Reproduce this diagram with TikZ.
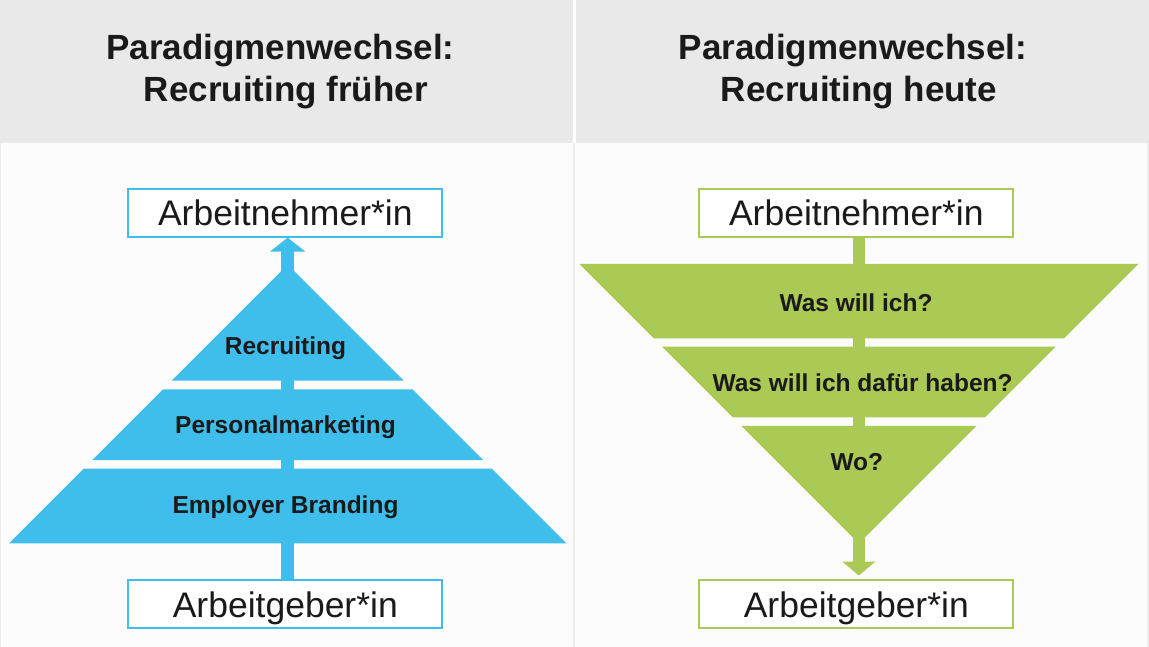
\documentclass[tikz,border=0pt]{standalone}
\usepackage{fontspec}
\setmainfont{Liberation Sans}
\usetikzlibrary{arrows.meta}
\definecolor{hdrgrey}{HTML}{E9E9E9}
\definecolor{bodybg}{HTML}{FCFCFC}
\definecolor{skyblue}{HTML}{40BEEB}
\definecolor{leafgreen}{HTML}{AAC955}
\definecolor{ink}{HTML}{1A1A1A}
\definecolor{faint}{HTML}{EDEDED}
\pgfdeclarelayer{backlayer}
\pgfdeclarelayer{midlayer}
\pgfsetlayers{backlayer,midlayer,main}
\begin{document}
\begin{tikzpicture}[x=1pt,y=-1pt,
  headtext/.style={font=\bfseries\fontsize{35}{42}\selectfont, text=ink, anchor=base, inner sep=0pt},
  boxlabel/.style={draw=#1, line width=2pt, fill=white, minimum width=314pt, minimum height=47.5pt,
    inner sep=0pt, text height=26.4pt, text depth=0pt, font=\fontsize{35.5}{41}\selectfont, text=ink},
  bandtext/.style={font=\bfseries\fontsize{24.5}{29}\selectfont, text=ink, anchor=base, inner sep=0pt},
  bluefill/.style={fill=skyblue},
  greenfill/.style={fill=leafgreen},
]
\useasboundingbox (0,0) rectangle (1149,647);
\begin{pgfonlayer}{backlayer}
\fill[white] (0,0) rectangle (1149,647);
\fill[bodybg] (0,143.3) rectangle (1149,647);
\fill[hdrgrey] (0,0) rectangle (572.8,143.3);
\fill[hdrgrey] (575.6,0) rectangle (1149,143.3);
\draw[faint, line width=1.5pt] (574.2,143.3) -- (574.2,647);
\draw[faint, line width=1.5pt] (1148,143.3) -- (1148,647);
\draw[faint, line width=1pt] (0.5,143.3) -- (0.5,647);
\end{pgfonlayer}

% headers
\node[headtext] (hl1) at (280.4,59.5) {Paradigmenwechsel:};
\node[headtext] (hl2) at (285.8,102) {Recruiting früher};
\node[headtext] (hr1) at (853,59.5) {Paradigmenwechsel:};
\node[headtext] (hr2) at (859,102) {Recruiting heute};

\coordinate (lx) at (287.7,0);
\coordinate (rx) at (858.8,0);

% boxes
\node[boxlabel=skyblue] (ltop) at (285.3,212.8) {Arbeitnehmer*in};
\node[boxlabel=skyblue] (lbot) at (285.3,603.8) {Arbeitgeber*in};
\node[boxlabel=leafgreen] (rtop) at (856.3,212.8) {Arbeitnehmer*in};
\node[boxlabel=leafgreen] (rbot) at (856.3,603.8) {Arbeitgeber*in};

\begin{pgfonlayer}{midlayer}
% left pyramid
\path[bluefill] (287.7,264.7) -- (403.7,380.7) -- (171.7,380.7) -- cycle;
\path[bluefill] (163.1,389.3) -- (412.3,389.3) -- (483.0,460) -- (92.4,460) -- cycle;
\path[bluefill] (83.7,468.7) -- (491.7,468.7) -- (566.3,543.3) -- (9.1,543.3) -- cycle;
% right funnel
\path[greenfill] (579.3,264) -- (1138.3,264) -- (1064.0,338.3) -- (653.6,338.3) -- cycle;
\path[greenfill] (662.0,346.7) -- (1055.6,346.7) -- (985.0,417.3) -- (732.6,417.3) -- cycle;
\path[greenfill] (741.1,425.8) -- (976.5,425.8) -- (858.8,543.5) -- cycle;
% arrows
\draw[skyblue, line width=13.5pt, -{Triangle[width=34.5pt,length=14pt]}]
  (lx |- lbot.north) -- (lx |- ltop.south);
\draw[leafgreen, line width=12.5pt, shorten >=3.5pt, -{Triangle[width=32.5pt,length=14pt]}]
  (rx |- rtop.south) -- (rx |- rbot.north);
\end{pgfonlayer}

% band labels
\node[bandtext] (t1) at (285.5,354.3) {Recruiting};
\node[bandtext] (t2) at (285.5,433.3) {Personalmarketing};
\node[bandtext] (t3) at (285.5,513.3) {Employer Branding};
\node[bandtext] (u1) at (856,311.7) {Was will ich?};
\node[bandtext] (u2) at (862.6,391.7) {Was will ich dafür haben?};
\node[bandtext] (u3) at (856.8,470) {Wo?};
\end{tikzpicture}
\end{document}
